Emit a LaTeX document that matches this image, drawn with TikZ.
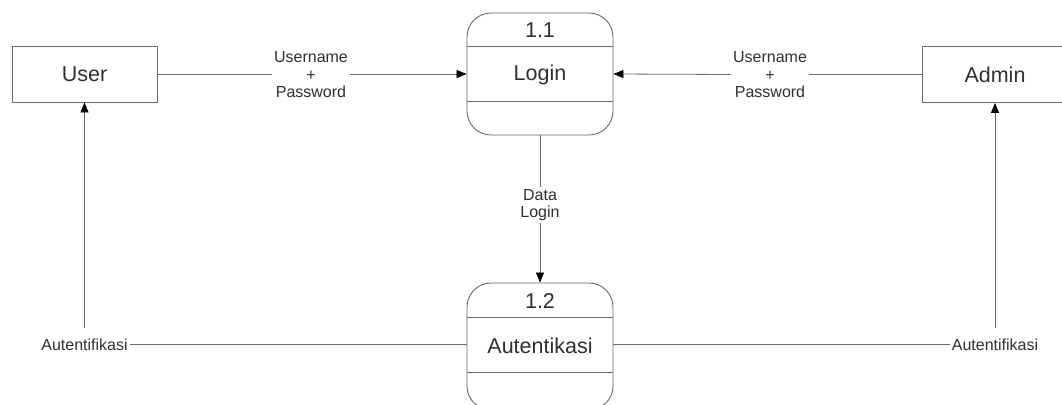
\documentclass[tikz,border=0pt]{standalone}
\usepackage{fontspec}
\setmainfont{Liberation Sans}
\usetikzlibrary{arrows.meta}
\definecolor{linegray}{HTML}{6A6A6A}
\definecolor{textgray}{HTML}{303030}
\begin{document}
\begin{tikzpicture}[x=1pt,y=-1pt,
  every node/.style={text=textgray},
  entity/.style={draw=linegray, line width=0.9pt, minimum width=145pt,
    minimum height=56pt, font=\fontsize{21.5}{24}\selectfont},
  proc/.style={draw=linegray, line width=0.9pt, rounded corners=24pt,
    minimum width=146pt, inner sep=0pt},
  ptext/.style={font=\fontsize{21.5}{24}\selectfont, inner sep=0pt},
  flowlbl/.style={font=\fontsize{16}{17.5}\selectfont, align=center, inner sep=2pt},
  flow/.style={draw=linegray, line width=0.8pt},
  arr/.style={flow, -{Triangle[length=10pt,width=8pt,color=black]}},
  divider/.style={draw=linegray, line width=0.9pt}
]
\useasboundingbox (0,0) rectangle (1062,404);
\fill[white] (0,0) rectangle (1062,404);
\clip (0,0) rectangle (1062,404);

% external entities
\node[entity] (user) at (84.5,74) {User};
\node[entity] (admin) at (995,74.5) {Admin};

% process 1.1
\node[proc, minimum height=122pt] (login) at (540,74) {};
\draw[divider] ([yshift=-34pt]login.north west) -- ([yshift=-34pt]login.north east);
\draw[divider] ([yshift=-89pt]login.north west) -- ([yshift=-89pt]login.north east);
\node[ptext] (loginnum) at (540,30) {1.1};
\node[ptext] (loginname) at (540,74.5) {Login};

% process 1.2
\node[proc, minimum height=127pt] (auth) at (540,346.5) {};
\draw[divider] ([yshift=-35pt]auth.north west) -- ([yshift=-35pt]auth.north east);
\draw[divider] ([yshift=-90pt]auth.north west) -- ([yshift=-90pt]auth.north east);
\node[ptext] (authnum) at (540,300.5) {1.2};
\node[ptext] (authname) at (540,345.5) {Autentikasi};

% flow labels
\node[flowlbl] (credl) at (311,75) {Username\\+\\Password};
\node[flowlbl] (credr) at (770,75) {Username\\+\\Password};
\node[flowlbl] (data) at (540,205) {Data\\Login};
\node[flowlbl, anchor=base] (autl) at (84.5,350) {Autentifikasi};
\node[flowlbl, anchor=base] (autr) at (995,350) {Autentifikasi};

% data flows
\draw[flow] (user.east) -- (user.east -| credl.west);
\draw[arr] (user.east -| credl.east) -- (login.west);
\draw[flow] (admin.west) -- (admin.west -| credr.east);
\draw[arr] (admin.west -| credr.west) -- (login.east);
\draw[flow] (login.south) -- (data.north);
\draw[arr] (data.south) -- (auth.north);
\draw[flow] (autl.east) -- (autl.east -| auth.west);
\draw[flow] (autr.west) -- (autr.west -| auth.east);
\draw[arr] ([yshift=8pt]autl.north) -- (user.south);
\draw[arr] ([yshift=8pt]autr.north) -- (admin.south);
\end{tikzpicture}
\end{document}
